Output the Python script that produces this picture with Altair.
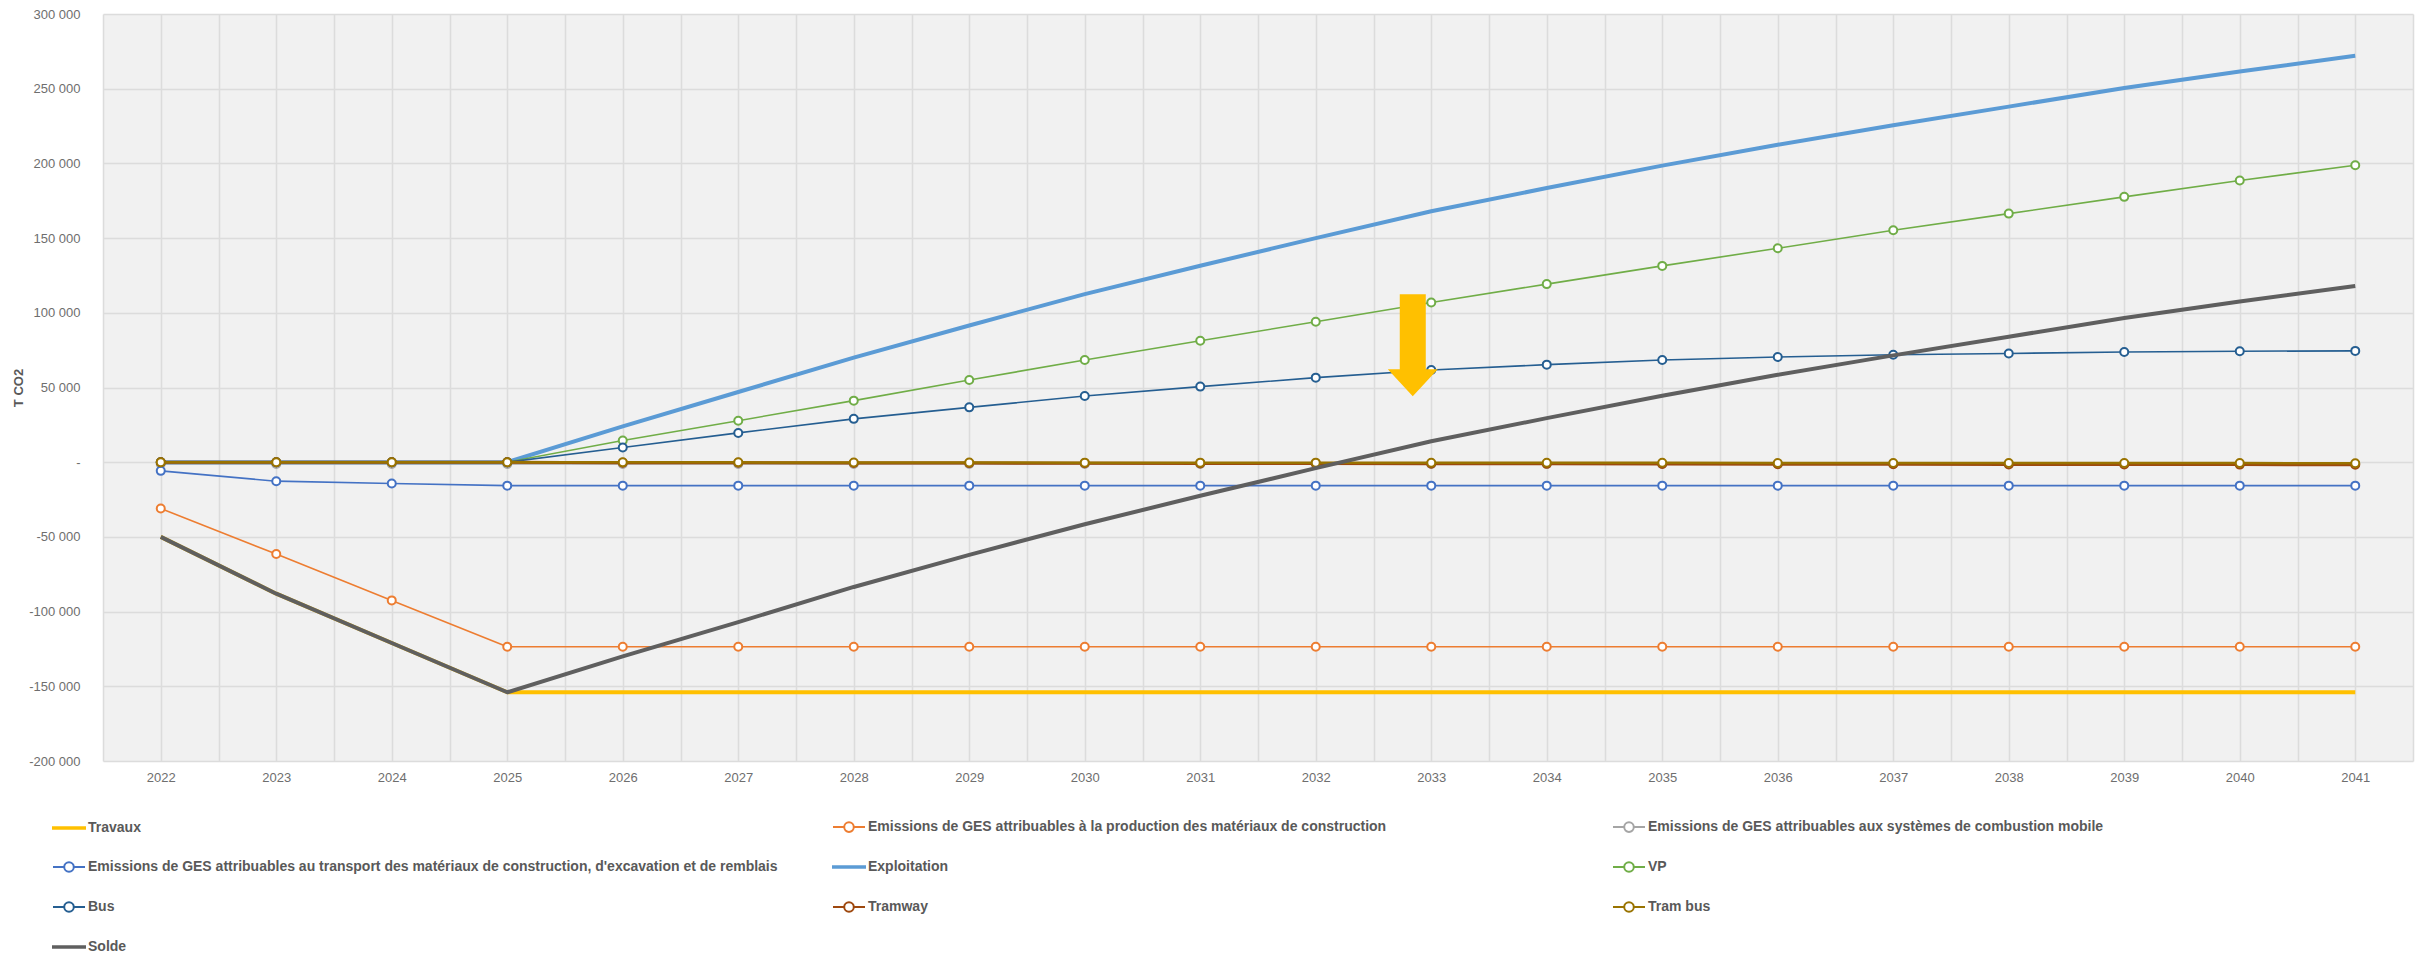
import altair as alt
import pandas as pd

# ---------------- data ----------------
years = list(range(2022, 2042))

series_names = [
    "Travaux",
    "Emissions de GES attribuables à la production des matériaux de construction",
    "Emissions de GES attribuables aux systèmes de combustion mobile",
    "Emissions de GES attribuables au transport des matériaux de construction, d'excavation et de remblais",
    "Exploitation",
    "VP",
    "Bus",
    "Tramway",
    "Tram bus",
    "Solde",
]

travaux = [-50000, -88000, -121000, -154000, -154000, -154000, -154000, -154000, -154000, -154000,
           -154000, -154000, -154000, -154000, -154000, -154000, -154000, -154000, -154000, -154000]
production = [-31000, -61500, -92500, -123500, -123500, -123500, -123500, -123500, -123500, -123500,
              -123500, -123500, -123500, -123500, -123500, -123500, -123500, -123500, -123500, -123500]
combustion = [-1200, -1200, -1200, -1200, -1200, -1200, -1200, -1200, -1200, -1200,
              -1200, -1200, -1200, -1200, -1200, -1200, -1200, -1200, -1200, -1200]
transport = [-5800, -12700, -14300, -15700, -15700, -15700, -15700, -15700, -15700, -15700,
             -15700, -15700, -15700, -15700, -15700, -15700, -15700, -15700, -15700, -15700]
exploitation = [0, 0, 0, 0, 24000, 47000, 70000, 91500, 112500, 131500,
                150000, 168000, 183500, 198500, 212500, 225500, 238000, 250500, 261500, 272000]
vp = [0, 0, 0, 0, 14500, 27800, 41200, 55000, 68400, 81300,
      94000, 106900, 119200, 131400, 143200, 155200, 166400, 177600, 188500, 198800]
bus = [0, 0, 0, 0, 9800, 19600, 29000, 36700, 44300, 50600,
       56600, 61700, 65300, 68400, 70400, 71900, 72800, 73800, 74300, 74500]
tramway = [0, 0, 0, 0, -300, -400, -500, -600, -700, -800,
           -900, -1000, -1100, -1200, -1300, -1400, -1500, -1500, -1600, -1700]
tram_bus = [0, 0, 0, 0, -100, -100, -200, -200, -300, -300,
            -300, -400, -400, -400, -500, -500, -500, -600, -600, -700]
solde = [-50000, -88000, -121000, -154000, -130000, -107000, -83500, -62000, -41500, -22500,
         -4000, 14000, 29500, 44500, 58500, 71500, 84000, 96500, 107500, 118000]

values = [travaux, production, combustion, transport, exploitation, vp, bus, tramway, tram_bus, solde]

arrow_year = [2032.84]
arrow_value = [78300]

y_ticks = [-200000, -150000, -100000, -50000, 0, 50000, 100000, 150000, 200000, 250000, 300000]
x_grid_ticks = [y - 0.5 for y in years] + years + [years[-1] + 0.5]

# ---------------- styles ----------------
colors = ["#FFC000", "#ED7D31", "#A5A5A5", "#4472C4", "#5B9BD5",
          "#70AD47", "#255E91", "#9E480E", "#997300", "#5F5F5F"]
widths = [4, 1.6, 1.6, 1.6, 4, 1.6, 1.6, 3, 2.5, 4]
markers = [False, True, True, True, False, True, True, True, True, False]

LINE_SYM = "M-1,-0.05L1,-0.05L1,0.05L-1,0.05Z"
MARK_SYM = ("M-1,0L-0.3,0M0.3,0L1,0M-0.3,0A0.3,0.3,0,1,1,0.3,0"
            "A0.3,0.3,0,1,1,-0.3,0Z")
legend_shapes = [MARK_SYM if m else LINE_SYM for m in markers]

ARROW = "M-0.255,-1L0.255,-1L0.255,0.47L0.49,0.47L0,1L-0.49,0.47L-0.255,0.47Z"

FONT = "Liberation Sans"

rows = []
for name, vals in zip(series_names, values):
    for yr, v in zip(years, vals):
        rows.append({"series": name, "year": yr, "value": v})
df = pd.DataFrame(rows)
df_arrow = pd.DataFrame({"year": arrow_year, "value": arrow_value})

y_label_expr = ("datum.value == 0 ? '-\u2007' : (datum.value < 0 ? '-' : '') + "
                "replace(format(abs(datum.value), ','), regexp(',', 'g'), ' ')")

x_enc = alt.X(
    "year:Q",
    scale=alt.Scale(domain=[2021.5, 2041.5], nice=False, zero=False),
    axis=alt.Axis(values=x_grid_ticks, labelExpr="datum.value % 1 == 0 ? '' + datum.value : ''",
                  title=None, grid=True, ticks=False, tickSize=0, domain=False,
                  labelOverlap=False, labelPadding=10, labelFontSize=13,
                  labelColor="#6E6E6E", labelFont=FONT),
)
y_enc = alt.Y(
    "value:Q",
    scale=alt.Scale(domain=[-200000, 300000], nice=False, zero=False),
    axis=alt.Axis(values=y_ticks, labelExpr=y_label_expr, title="T CO2",
                  grid=True, ticks=False, tickSize=0, domain=False,
                  labelPadding=23, labelFontSize=13, labelColor="#6E6E6E", labelFont=FONT,
                  titleFont=FONT, titleFontSize=13, titleFontWeight="bold", titleColor="#595959",
                  titleX=-85, titleBaseline="middle", titleAngle=270),
)

layers = []
for i, name in enumerate(series_names):
    base = alt.Chart(df).transform_filter(alt.datum.series == name)
    layers.append(
        base.mark_line(color=colors[i], strokeWidth=widths[i], strokeJoin="round")
        .encode(x=x_enc, y=y_enc)
    )
    if markers[i]:
        layers.append(
            base.mark_point(shape="circle", size=64, filled=False, fill="white",
                            stroke=colors[i], strokeWidth=2, opacity=1)
            .encode(x=x_enc, y=y_enc)
        )

legend_cfg = alt.Legend(
    title=None, orient="none", legendX=-51, legendY=796, direction="horizontal",
    columns=3, gridAlign="all",
    columnPadding=51, rowPadding=14, labelFont=FONT, labelFontSize=14,
    labelFontWeight="bold", labelColor="#595959", labelLimit=1500, labelOffset=2,
    symbolSize=1024, symbolStrokeWidth=2, padding=0,
)

legend_layer = (
    alt.Chart(df)
    .transform_filter("false")
    .mark_point(filled=False, size=1024, strokeWidth=2, opacity=1)
    .encode(
        x=x_enc, y=y_enc,
        color=alt.Color("series:N", scale=alt.Scale(domain=series_names, range=colors), legend=legend_cfg),
        shape=alt.Shape("series:N", scale=alt.Scale(domain=series_names, range=legend_shapes), legend=legend_cfg),
    )
)
layers.append(legend_layer)

arrow_layer = (
    alt.Chart(df_arrow)
    .mark_point(shape=ARROW, size=10404, filled=True, color="#FFC000", opacity=1, strokeWidth=0)
    .encode(x=x_enc, y=y_enc)
)
layers.append(arrow_layer)

chart = (
    alt.layer(*layers)
    .properties(
        width=2310, height=747,
        autosize=alt.AutoSizeParams(type="none"),
        padding={"left": 95, "top": 6, "right": 10, "bottom": 198},
        background="white",
    )
    .configure_view(fill="#F1F1F1", stroke="transparent")
    .configure_axis(gridColor="#DCDCDC", gridWidth=1.5)
)

chart.save("out.html", embed_options={"renderer": "svg", "actions": False})
